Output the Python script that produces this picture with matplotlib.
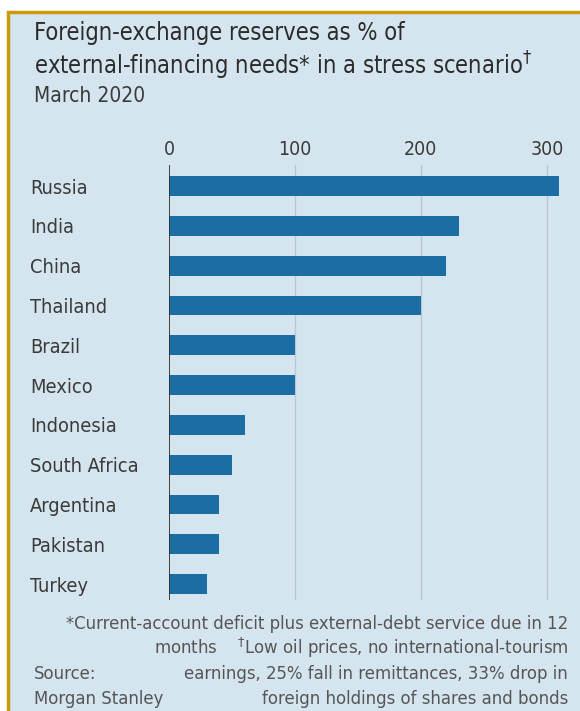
import matplotlib
matplotlib.use("Agg")
import matplotlib.pyplot as plt
from matplotlib.patches import Rectangle

countries = ["Russia", "India", "China", "Thailand", "Brazil", "Mexico",
             "Indonesia", "South Africa", "Argentina", "Pakistan", "Turkey"]
reserves_pct = [310, 230, 220, 200, 100, 100, 60, 50, 40, 40, 30]
tick_values = [0, 100, 200, 300]
tick_labels = ["0", "100", "200", "300"]

FONT = ["DejaVu Sans"]
STRETCH = "condensed"
BG = "#d5e5ef"
BAR = "#1b6ea3"
TXT = "#3a3a3a"
FRAME = "#c99a0a"

W, H = 580, 711
fig = plt.figure(figsize=(W / 100, H / 100), dpi=100)
fig.patch.set_facecolor("white")

# panel with gold frame (left and top edges visible)
fig.patches.append(Rectangle((8 / W, -0.05), 1.05, 1 - 12 / H + 0.05,
                             transform=fig.transFigure, facecolor=BG,
                             edgecolor=FRAME, linewidth=2.5, zorder=-5))

ax = fig.add_axes([169 / W, 1 - 600 / H, (572 - 169) / W, (600 - 165) / H])
ax.set_zorder(2)
ax.set_facecolor("none")
y = list(range(len(countries)))
ax.barh(y, reserves_pct, height=0.5, color=BAR, zorder=3)
ax.set_xlim(0, 320)
ax.set_ylim(10.4, -0.53)

ax.set_xticks(tick_values)
ax.set_xticklabels(tick_labels, fontsize=14, color=TXT, family=FONT,
                   fontstretch=STRETCH)
ax.xaxis.tick_top()
ax.tick_params(axis="x", length=0, pad=4)
ax.set_yticks(y)
ax.set_yticklabels(countries, fontsize=14.3, color=TXT, family=FONT,
                   fontstretch=STRETCH, ha="left")
ax.tick_params(axis="y", length=0, pad=(169 - 30) * 0.72)
for v in tick_values[1:]:
    ax.axvline(v, color="#b9c7d1", linewidth=1, zorder=1)
ax.axvline(0, color="#333333", linewidth=1.3, zorder=4)
for s in ax.spines.values():
    s.set_visible(False)

# titles
tkw = dict(family=FONT, fontstretch=STRETCH, va="top")
fig.text(34 / W, 1 - 21 / H, "Foreign-exchange reserves as % of", fontsize=17,
         color="#2b2b2b", **tkw)
fig.text(34 / W, 1 - 50 / H, "external-financing needs* in a stress scenario$^{\\dagger}$",
         fontsize=17, color="#2b2b2b", **tkw)
fig.text(34 / W, 1 - 86 / H, "March 2020", fontsize=15, color=TXT, **tkw)

# footnotes
fn_kw = dict(fontsize=13.2, color="#555555", family=FONT, fontstretch=STRETCH,
             ha="right", va="baseline")
fig.text(568 / W, 1 - 629 / H,
         "*Current-account deficit plus external-debt service due in 12", **fn_kw)
fig.text(568 / W, 1 - 654 / H,
         "months    $^{\\dagger}$Low oil prices, no international-tourism", **fn_kw)
fig.text(568 / W, 1 - 679 / H,
         "earnings, 25% fall in remittances, 33% drop in", **fn_kw)
fig.text(568 / W, 1 - 704 / H,
         "foreign holdings of shares and bonds", **fn_kw)
src_kw = dict(fn_kw, ha="left")
fig.text(34 / W, 1 - 679 / H, "Source:", **src_kw)
fig.text(34 / W, 1 - 704 / H, "Morgan Stanley", **src_kw)

fig.savefig("out.png", dpi=100)
